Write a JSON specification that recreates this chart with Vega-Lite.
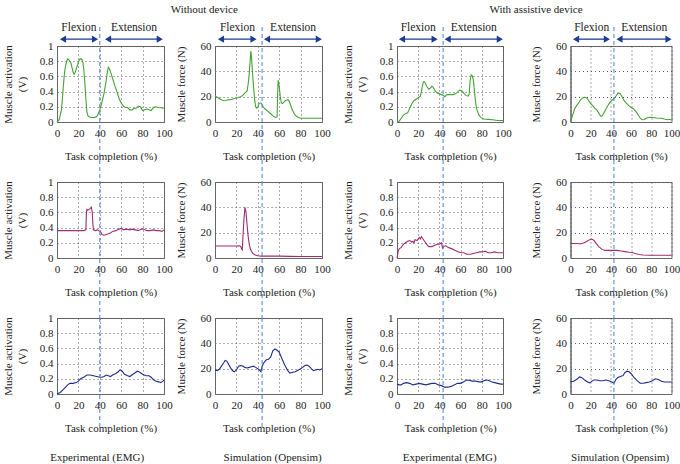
{
"$schema":"https://vega.github.io/schema/vega-lite/v6.json",
"padding":{"left":1,"top":4,"right":0,"bottom":2},
"background":"white",
"config":{
 "font":"Liberation Serif",
 "view":{"stroke":"#666","strokeWidth":1},
 "axis":{"labelFont":"Liberation Serif","titleFont":"Liberation Serif","labelFontSize":11,"titleFontSize":11,"titleFontWeight":"normal","labelColor":"#222","titleColor":"#222","domainColor":"#666","ticks":false,"grid":true,"gridDash":[1,3],"gridColor":"#555","gridOpacity":1,"labelFlush":false,"labelOverlap":false,"labelBound":false},
 "axisX":{"labelPadding":5,"titlePadding":12},
 "axisY":{"labelPadding":4},
 "line":{"strokeWidth":1.1},
 "title":{"font":"Liberation Serif","fontSize":11,"fontWeight":"normal","color":"#222","anchor":"middle"}
},
"datasets":{
 "a1":[{"x":0,"y":0},{"x":2,"y":0.03},{"x":4,"y":0.15},{"x":5,"y":0.3},{"x":6,"y":0.48},{"x":7,"y":0.65},{"x":8,"y":0.74},{"x":9,"y":0.8},{"x":10,"y":0.83},{"x":11,"y":0.82},{"x":12,"y":0.8},{"x":13,"y":0.78},{"x":14,"y":0.72},{"x":15,"y":0.66},{"x":16,"y":0.63},{"x":17,"y":0.65},{"x":18,"y":0.7},{"x":19,"y":0.74},{"x":20,"y":0.79},{"x":21,"y":0.82},{"x":22,"y":0.83},{"x":23,"y":0.83},{"x":24,"y":0.8},{"x":25,"y":0.7},{"x":26,"y":0.52},{"x":27,"y":0.3},{"x":28,"y":0.13},{"x":29,"y":0.08},{"x":30,"y":0.07},{"x":32,"y":0.06},{"x":35,"y":0.06},{"x":37,"y":0.07},{"x":38,"y":0.09},{"x":40,"y":0.16},{"x":42,"y":0.26},{"x":44,"y":0.38},{"x":46,"y":0.55},{"x":47,"y":0.65},{"x":48,"y":0.72},{"x":49,"y":0.7},{"x":50,"y":0.66},{"x":52,"y":0.57},{"x":54,"y":0.48},{"x":56,"y":0.4},{"x":58,"y":0.31},{"x":60,"y":0.25},{"x":62,"y":0.21},{"x":64,"y":0.19},{"x":66,"y":0.19},{"x":68,"y":0.16},{"x":70,"y":0.16},{"x":72,"y":0.18},{"x":74,"y":0.18},{"x":76,"y":0.21},{"x":78,"y":0.2},{"x":80,"y":0.15},{"x":82,"y":0.16},{"x":84,"y":0.17},{"x":86,"y":0.16},{"x":88,"y":0.15},{"x":90,"y":0.19},{"x":92,"y":0.2},{"x":95,"y":0.19},{"x":100,"y":0.18}],
 "a2":[{"x":0,"y":20.5},{"x":2,"y":19.5},{"x":4,"y":18.5},{"x":6,"y":17.5},{"x":8,"y":16.8},{"x":10,"y":17},{"x":12,"y":17.5},{"x":14,"y":17.6},{"x":16,"y":18},{"x":18,"y":18.6},{"x":20,"y":19},{"x":22,"y":19.3},{"x":24,"y":20},{"x":26,"y":21},{"x":28,"y":23},{"x":30,"y":24.5},{"x":31,"y":30},{"x":32,"y":38},{"x":33,"y":50},{"x":33.5,"y":56},{"x":34,"y":52},{"x":35,"y":40},{"x":36,"y":28},{"x":37,"y":18},{"x":38,"y":12},{"x":39,"y":11},{"x":40,"y":12},{"x":41,"y":14},{"x":42,"y":15},{"x":43,"y":15},{"x":44,"y":14},{"x":45,"y":12},{"x":46,"y":11},{"x":48,"y":9.5},{"x":50,"y":8},{"x":52,"y":6.5},{"x":54,"y":5},{"x":56,"y":3.8},{"x":58,"y":4},{"x":58.5,"y":20},{"x":59,"y":33},{"x":60,"y":28},{"x":61,"y":20},{"x":62,"y":15},{"x":63,"y":14.5},{"x":64,"y":15.5},{"x":66,"y":17},{"x":68,"y":17.5},{"x":69,"y":17},{"x":70,"y":15},{"x":72,"y":10},{"x":74,"y":6.5},{"x":76,"y":4.5},{"x":78,"y":3.5},{"x":80,"y":3},{"x":85,"y":3},{"x":90,"y":3},{"x":100,"y":3}],
 "a3":[{"x":0,"y":0},{"x":2,"y":0.01},{"x":4,"y":0.05},{"x":6,"y":0.09},{"x":8,"y":0.11},{"x":10,"y":0.12},{"x":12,"y":0.18},{"x":14,"y":0.24},{"x":16,"y":0.28},{"x":18,"y":0.3},{"x":20,"y":0.32},{"x":22,"y":0.34},{"x":23,"y":0.4},{"x":24,"y":0.48},{"x":25,"y":0.53},{"x":26,"y":0.53},{"x":27,"y":0.5},{"x":28,"y":0.47},{"x":30,"y":0.43},{"x":31,"y":0.44},{"x":33,"y":0.47},{"x":34,"y":0.46},{"x":36,"y":0.41},{"x":38,"y":0.38},{"x":40,"y":0.37},{"x":42,"y":0.36},{"x":44,"y":0.35},{"x":45,"y":0.33},{"x":47,"y":0.36},{"x":50,"y":0.36},{"x":53,"y":0.36},{"x":55,"y":0.37},{"x":57,"y":0.39},{"x":59,"y":0.42},{"x":61,"y":0.41},{"x":63,"y":0.38},{"x":65,"y":0.35},{"x":67,"y":0.34},{"x":68,"y":0.36},{"x":69,"y":0.55},{"x":70,"y":0.62},{"x":71,"y":0.61},{"x":72,"y":0.55},{"x":73,"y":0.42},{"x":74,"y":0.28},{"x":75,"y":0.18},{"x":77,"y":0.1},{"x":79,"y":0.06},{"x":82,"y":0.04},{"x":86,"y":0.035},{"x":90,"y":0.03},{"x":95,"y":0.02},{"x":100,"y":0.02}],
 "a4":[{"x":0,"y":0},{"x":2,"y":5},{"x":4,"y":10},{"x":6,"y":13},{"x":8,"y":15},{"x":10,"y":17.5},{"x":12,"y":19},{"x":14,"y":19.5},{"x":16,"y":19},{"x":18,"y":17},{"x":20,"y":14.5},{"x":22,"y":13},{"x":24,"y":11},{"x":26,"y":9.5},{"x":28,"y":7},{"x":30,"y":4.5},{"x":31,"y":4.5},{"x":33,"y":7},{"x":35,"y":10},{"x":37,"y":13},{"x":39,"y":15.5},{"x":41,"y":17},{"x":43,"y":18.5},{"x":45,"y":20.5},{"x":47,"y":23},{"x":49,"y":22.5},{"x":51,"y":20},{"x":53,"y":17},{"x":55,"y":15},{"x":57,"y":13.5},{"x":59,"y":12},{"x":61,"y":11},{"x":63,"y":10},{"x":65,"y":8},{"x":67,"y":5.5},{"x":69,"y":3},{"x":71,"y":1.8},{"x":73,"y":2},{"x":75,"y":3},{"x":78,"y":3.7},{"x":81,"y":3.6},{"x":85,"y":3.2},{"x":90,"y":3},{"x":93,"y":2.3},{"x":96,"y":1.8},{"x":98,"y":2.2},{"x":100,"y":1.5}],
 "b1":[{"x":0,"y":0.36},{"x":5,"y":0.36},{"x":10,"y":0.36},{"x":15,"y":0.36},{"x":20,"y":0.36},{"x":25,"y":0.36},{"x":27,"y":0.37},{"x":27.5,"y":0.6},{"x":28,"y":0.64},{"x":29,"y":0.63},{"x":30,"y":0.64},{"x":31,"y":0.65},{"x":32,"y":0.67},{"x":33,"y":0.6},{"x":33.5,"y":0.45},{"x":34,"y":0.37},{"x":36,"y":0.36},{"x":38,"y":0.37},{"x":40,"y":0.35},{"x":41,"y":0.34},{"x":42,"y":0.31},{"x":44,"y":0.3},{"x":46,"y":0.31},{"x":48,"y":0.32},{"x":50,"y":0.33},{"x":52,"y":0.35},{"x":55,"y":0.36},{"x":58,"y":0.38},{"x":60,"y":0.39},{"x":62,"y":0.37},{"x":65,"y":0.38},{"x":68,"y":0.37},{"x":70,"y":0.38},{"x":73,"y":0.37},{"x":76,"y":0.36},{"x":79,"y":0.38},{"x":81,"y":0.38},{"x":84,"y":0.36},{"x":87,"y":0.36},{"x":90,"y":0.37},{"x":93,"y":0.36},{"x":96,"y":0.36},{"x":98,"y":0.35},{"x":100,"y":0.37}],
 "b2":[{"x":0,"y":9.5},{"x":5,"y":9.5},{"x":10,"y":9.5},{"x":15,"y":9.5},{"x":20,"y":9.5},{"x":23,"y":9.6},{"x":24,"y":9},{"x":25,"y":7},{"x":25.5,"y":6.5},{"x":26,"y":15},{"x":27,"y":30},{"x":28,"y":40},{"x":29,"y":36},{"x":30,"y":26},{"x":31,"y":17},{"x":32,"y":11},{"x":33,"y":7},{"x":35,"y":4},{"x":37,"y":2.5},{"x":40,"y":1.8},{"x":43,"y":1.5},{"x":50,"y":1.5},{"x":60,"y":1.5},{"x":70,"y":1.3},{"x":80,"y":1.2},{"x":90,"y":1.2},{"x":100,"y":1.2}],
 "b3":[{"x":0,"y":0},{"x":1,"y":0.08},{"x":2,"y":0.12},{"x":4,"y":0.14},{"x":6,"y":0.18},{"x":8,"y":0.2},{"x":10,"y":0.22},{"x":12,"y":0.23},{"x":14,"y":0.21},{"x":15,"y":0.22},{"x":16,"y":0.2},{"x":17,"y":0.24},{"x":19,"y":0.23},{"x":21,"y":0.27},{"x":22,"y":0.25},{"x":23,"y":0.28},{"x":24,"y":0.26},{"x":26,"y":0.22},{"x":28,"y":0.18},{"x":30,"y":0.15},{"x":33,"y":0.15},{"x":36,"y":0.17},{"x":38,"y":0.18},{"x":40,"y":0.18},{"x":42,"y":0.2},{"x":43,"y":0.13},{"x":44,"y":0.15},{"x":46,"y":0.16},{"x":48,"y":0.14},{"x":50,"y":0.13},{"x":52,"y":0.12},{"x":55,"y":0.1},{"x":58,"y":0.08},{"x":61,"y":0.07},{"x":63,"y":0.07},{"x":66,"y":0.05},{"x":69,"y":0.05},{"x":72,"y":0.06},{"x":75,"y":0.07},{"x":78,"y":0.08},{"x":81,"y":0.08},{"x":83,"y":0.09},{"x":86,"y":0.07},{"x":89,"y":0.07},{"x":92,"y":0.08},{"x":95,"y":0.07},{"x":98,"y":0.07},{"x":100,"y":0.07}],
 "b4":[{"x":0,"y":11.5},{"x":5,"y":11.5},{"x":10,"y":11.3},{"x":13,"y":11.8},{"x":16,"y":13},{"x":19,"y":14.5},{"x":21,"y":15},{"x":23,"y":14},{"x":25,"y":12},{"x":28,"y":9},{"x":31,"y":7},{"x":34,"y":6},{"x":38,"y":6},{"x":42,"y":6},{"x":46,"y":6},{"x":50,"y":5.5},{"x":54,"y":5},{"x":58,"y":4.5},{"x":61,"y":4.3},{"x":64,"y":3.5},{"x":68,"y":2.8},{"x":72,"y":2.4},{"x":78,"y":2.2},{"x":85,"y":2.2},{"x":100,"y":2.2}],
 "c1":[{"x":0,"y":0},{"x":3,"y":0.02},{"x":6,"y":0.06},{"x":8,"y":0.09},{"x":10,"y":0.12},{"x":12,"y":0.14},{"x":15,"y":0.14},{"x":18,"y":0.15},{"x":20,"y":0.17},{"x":22,"y":0.2},{"x":25,"y":0.22},{"x":28,"y":0.25},{"x":31,"y":0.25},{"x":34,"y":0.24},{"x":37,"y":0.23},{"x":40,"y":0.22},{"x":42,"y":0.22},{"x":44,"y":0.23},{"x":46,"y":0.25},{"x":48,"y":0.24},{"x":50,"y":0.23},{"x":52,"y":0.25},{"x":55,"y":0.27},{"x":57,"y":0.29},{"x":59,"y":0.32},{"x":61,"y":0.3},{"x":63,"y":0.26},{"x":66,"y":0.24},{"x":68,"y":0.23},{"x":70,"y":0.25},{"x":73,"y":0.28},{"x":75,"y":0.3},{"x":77,"y":0.29},{"x":80,"y":0.26},{"x":83,"y":0.24},{"x":86,"y":0.24},{"x":88,"y":0.22},{"x":90,"y":0.19},{"x":92,"y":0.17},{"x":95,"y":0.16},{"x":97,"y":0.15},{"x":99,"y":0.17},{"x":100,"y":0.18}],
 "c2":[{"x":0,"y":19},{"x":2,"y":18.5},{"x":4,"y":19.5},{"x":6,"y":22},{"x":8,"y":24.5},{"x":9.5,"y":26.5},{"x":11,"y":26},{"x":13,"y":23},{"x":15,"y":20},{"x":17,"y":18},{"x":18,"y":17.5},{"x":20,"y":19},{"x":22,"y":22},{"x":24,"y":22.5},{"x":26,"y":22},{"x":28,"y":21},{"x":30,"y":20.5},{"x":32,"y":21},{"x":34,"y":21.5},{"x":36,"y":22},{"x":38,"y":21},{"x":40,"y":20},{"x":42,"y":18.5},{"x":43,"y":17.5},{"x":44,"y":22},{"x":46,"y":25},{"x":48,"y":27},{"x":50,"y":27.5},{"x":52,"y":29},{"x":54,"y":34},{"x":56,"y":35.5},{"x":58,"y":34.5},{"x":60,"y":33},{"x":62,"y":29},{"x":64,"y":25},{"x":66,"y":21.5},{"x":68,"y":18.5},{"x":70,"y":16.5},{"x":72,"y":17},{"x":75,"y":17.5},{"x":78,"y":19},{"x":80,"y":20},{"x":82,"y":21},{"x":84,"y":22.5},{"x":86,"y":22.8},{"x":88,"y":22},{"x":90,"y":20},{"x":92,"y":18.5},{"x":94,"y":19},{"x":96,"y":19.5},{"x":98,"y":19},{"x":100,"y":20}],
 "c3":[{"x":0,"y":0.13},{"x":2,"y":0.12},{"x":4,"y":0.12},{"x":6,"y":0.14},{"x":9,"y":0.15},{"x":12,"y":0.14},{"x":15,"y":0.12},{"x":18,"y":0.13},{"x":21,"y":0.14},{"x":24,"y":0.13},{"x":27,"y":0.12},{"x":30,"y":0.13},{"x":33,"y":0.14},{"x":36,"y":0.14},{"x":39,"y":0.12},{"x":42,"y":0.11},{"x":45,"y":0.09},{"x":48,"y":0.09},{"x":51,"y":0.1},{"x":54,"y":0.12},{"x":57,"y":0.14},{"x":60,"y":0.14},{"x":63,"y":0.16},{"x":65,"y":0.18},{"x":68,"y":0.18},{"x":71,"y":0.17},{"x":74,"y":0.17},{"x":77,"y":0.16},{"x":80,"y":0.16},{"x":83,"y":0.18},{"x":86,"y":0.18},{"x":89,"y":0.16},{"x":92,"y":0.15},{"x":95,"y":0.14},{"x":98,"y":0.13},{"x":100,"y":0.13}],
 "c4":[{"x":0,"y":9.8},{"x":3,"y":10},{"x":6,"y":11.5},{"x":9,"y":13.5},{"x":11,"y":13},{"x":14,"y":11},{"x":17,"y":9.5},{"x":19,"y":8.8},{"x":21,"y":10},{"x":23,"y":11},{"x":26,"y":11},{"x":29,"y":10.5},{"x":32,"y":10.5},{"x":35,"y":11},{"x":38,"y":10.5},{"x":41,"y":9.5},{"x":43,"y":8.5},{"x":45,"y":11.5},{"x":47,"y":13},{"x":50,"y":14},{"x":52,"y":14.5},{"x":54,"y":17},{"x":56,"y":18},{"x":58,"y":17.5},{"x":60,"y":16},{"x":63,"y":13},{"x":66,"y":10.5},{"x":69,"y":8.5},{"x":72,"y":8.5},{"x":75,"y":9},{"x":78,"y":9.5},{"x":81,"y":10.5},{"x":84,"y":12},{"x":87,"y":11.5},{"x":90,"y":10},{"x":93,"y":9.5},{"x":96,"y":9.5},{"x":100,"y":9.5}],
 "arr1":[{"x":5.6,"x2":35.5,"xm":20.5,"label":"Flexion"},{"x":47.7,"x2":96,"xm":72,"label":"Extension"}],
 "arr2":[{"x":5.6,"x2":36,"xm":21,"label":"Flexion"},{"x":48.6,"x2":97,"xm":73,"label":"Extension"}],
 "arr3":[{"x":4.7,"x2":35.5,"xm":20,"label":"Flexion"},{"x":47.8,"x2":97,"xm":72.5,"label":"Extension"}],
 "arr4":[{"x":5.5,"x2":36,"xm":21,"label":"Flexion"},{"x":48.5,"x2":97,"xm":73,"label":"Extension"}]
},
"spacing":10,
"hconcat":[
 {"title":{"text":"Without device","offset":6,"dx":38},"spacing":1,"hconcat":[
  {"title":{"text":"Experimental (EMG)","orient":"bottom","offset":18,"dx":10},"spacing":60,"bounds":"flush","vconcat":[
   {"width":107,"height":76,"layer":[
    {"data":{"name":"a1"},"mark":{"type":"line","color":"#45a135"},"encoding":{"x":{"field":"x","type":"quantitative","scale":{"domain":[0,100],"nice":false},"axis":{"title":"Task completion (%)","values":[0,20,40,60,80,100],"tickCount":6,"labelOverlap":false}},"y":{"field":"y","type":"quantitative","scale":{"domain":[0,1],"nice":false},"axis":{"title":["Muscle activation","(V)"],"titleLineHeight":14,"titlePadding":12,"values":[0,0.2,0.4,0.6,0.8,1],"tickCount":6,"labelOverlap":false,"format":"~g"}}}},
    {"data":{"name":"arr1"},"mark":{"type":"rule","color":"#1d3c8f","strokeWidth":1.3},"encoding":{"x":{"field":"x","type":"quantitative"},"x2":{"field":"x2"},"y":{"datum":1.09}}},
    {"data":{"name":"arr1"},"mark":{"type":"point","shape":"triangle-left","filled":true,"size":50,"color":"#1d3c8f","opacity":1},"encoding":{"x":{"field":"x","type":"quantitative"},"y":{"datum":1.09}}},
    {"data":{"name":"arr1"},"mark":{"type":"point","shape":"triangle-right","filled":true,"size":50,"color":"#1d3c8f","opacity":1},"encoding":{"x":{"field":"x2","type":"quantitative"},"y":{"datum":1.09}}},
    {"data":{"name":"arr1"},"mark":{"type":"text","fontSize":11.5,"color":"#222","font":"Liberation Serif"},"encoding":{"x":{"field":"xm","type":"quantitative"},"y":{"datum":1.24},"text":{"field":"label"}}},
    {"data":{"values":[{}]},"mark":{"type":"rule","color":"#4b7fd6","strokeDash":[4,3],"strokeWidth":1},"encoding":{"x":{"datum":40},"y":{"datum":1.25},"y2":{"datum":-0.79}}}
   ]},
   {"width":107,"height":76,"layer":[
    {"data":{"name":"b1"},"mark":{"type":"line","color":"#a02d70"},"encoding":{"x":{"field":"x","type":"quantitative","scale":{"domain":[0,100],"nice":false},"axis":{"title":"Task completion (%)","values":[0,20,40,60,80,100],"tickCount":6,"labelOverlap":false}},"y":{"field":"y","type":"quantitative","scale":{"domain":[0,1],"nice":false},"axis":{"title":["Muscle activation","(V)"],"titleLineHeight":14,"titlePadding":12,"values":[0,0.2,0.4,0.6,0.8,1],"tickCount":6,"labelOverlap":false,"format":"~g"}}}},
    {"data":{"values":[{}]},"mark":{"type":"rule","color":"#4b7fd6","strokeDash":[4,3],"strokeWidth":1},"encoding":{"x":{"datum":40},"y":{"datum":1},"y2":{"datum":-0.8}}}
   ]},
   {"width":107,"height":76,"layer":[
    {"data":{"name":"c1"},"mark":{"type":"line","color":"#1f2d8c"},"encoding":{"x":{"field":"x","type":"quantitative","scale":{"domain":[0,100],"nice":false},"axis":{"title":"Task completion (%)","values":[0,20,40,60,80,100],"tickCount":6,"labelOverlap":false}},"y":{"field":"y","type":"quantitative","scale":{"domain":[0,1],"nice":false},"axis":{"title":["Muscle activation","(V)"],"titleLineHeight":14,"titlePadding":12,"values":[0,0.2,0.4,0.6,0.8,1],"tickCount":6,"labelOverlap":false,"format":"~g"}}}},
    {"data":{"values":[{}]},"mark":{"type":"rule","color":"#4b7fd6","strokeDash":[4,3],"strokeWidth":1},"encoding":{"x":{"datum":40},"y":{"datum":1},"y2":{"datum":-0.47}}}
   ]}
  ]},
  {"title":{"text":"Simulation (Opensim)","orient":"bottom","offset":18,"dx":20},"spacing":60,"bounds":"flush","vconcat":[
   {"width":107,"height":76,"layer":[
    {"data":{"name":"a2"},"mark":{"type":"line","color":"#45a135"},"encoding":{"x":{"field":"x","type":"quantitative","scale":{"domain":[0,100],"nice":false},"axis":{"title":"Task completion (%)","values":[0,20,40,60,80,100],"tickCount":6,"labelOverlap":false}},"y":{"field":"y","type":"quantitative","scale":{"domain":[0,60],"nice":false},"axis":{"title":"Muscle force (N)","titlePadding":14,"values":[0,20,40,60],"tickCount":4,"labelOverlap":false}}}},
    {"data":{"name":"arr2"},"mark":{"type":"rule","color":"#1d3c8f","strokeWidth":1.3},"encoding":{"x":{"field":"x","type":"quantitative"},"x2":{"field":"x2"},"y":{"datum":65.4}}},
    {"data":{"name":"arr2"},"mark":{"type":"point","shape":"triangle-left","filled":true,"size":50,"color":"#1d3c8f","opacity":1},"encoding":{"x":{"field":"x","type":"quantitative"},"y":{"datum":65.4}}},
    {"data":{"name":"arr2"},"mark":{"type":"point","shape":"triangle-right","filled":true,"size":50,"color":"#1d3c8f","opacity":1},"encoding":{"x":{"field":"x2","type":"quantitative"},"y":{"datum":65.4}}},
    {"data":{"name":"arr2"},"mark":{"type":"text","fontSize":11.5,"color":"#222","font":"Liberation Serif"},"encoding":{"x":{"field":"xm","type":"quantitative"},"y":{"datum":74.4},"text":{"field":"label"}}},
    {"data":{"values":[{}]},"mark":{"type":"rule","color":"#4b7fd6","strokeDash":[4,3],"strokeWidth":1},"encoding":{"x":{"datum":44},"y":{"datum":75},"y2":{"datum":-47.4}}}
   ]},
   {"width":107,"height":76,"layer":[
    {"data":{"name":"b2"},"mark":{"type":"line","color":"#a02d70"},"encoding":{"x":{"field":"x","type":"quantitative","scale":{"domain":[0,100],"nice":false},"axis":{"title":"Task completion (%)","values":[0,20,40,60,80,100],"tickCount":6,"labelOverlap":false}},"y":{"field":"y","type":"quantitative","scale":{"domain":[0,60],"nice":false},"axis":{"title":"Muscle force (N)","titlePadding":14,"values":[0,20,40,60],"tickCount":4,"labelOverlap":false}}}},
    {"data":{"values":[{}]},"mark":{"type":"rule","color":"#4b7fd6","strokeDash":[4,3],"strokeWidth":1},"encoding":{"x":{"datum":44},"y":{"datum":60},"y2":{"datum":-48}}}
   ]},
   {"width":107,"height":76,"layer":[
    {"data":{"name":"c2"},"mark":{"type":"line","color":"#1f2d8c"},"encoding":{"x":{"field":"x","type":"quantitative","scale":{"domain":[0,100],"nice":false},"axis":{"title":"Task completion (%)","values":[0,20,40,60,80,100],"tickCount":6,"labelOverlap":false}},"y":{"field":"y","type":"quantitative","scale":{"domain":[0,60],"nice":false},"axis":{"title":"Muscle force (N)","titlePadding":14,"values":[0,20,40,60],"tickCount":4,"labelOverlap":false}}}},
    {"data":{"values":[{}]},"mark":{"type":"rule","color":"#4b7fd6","strokeDash":[4,3],"strokeWidth":1},"encoding":{"x":{"datum":44},"y":{"datum":60},"y2":{"datum":-28}}}
   ]}
  ]}
 ]},
 {"title":{"text":"With assistive device","offset":6,"dx":25},"spacing":17.5,"hconcat":[
  {"title":{"text":"Experimental (EMG)","orient":"bottom","offset":18,"dx":23},"spacing":60,"bounds":"flush","vconcat":[
   {"width":106,"height":76,"layer":[
    {"data":{"name":"a3"},"mark":{"type":"line","color":"#45a135"},"encoding":{"x":{"field":"x","type":"quantitative","scale":{"domain":[0,100],"nice":false},"axis":{"title":"Task completion (%)","values":[0,20,40,60,80,100],"tickCount":6,"labelOverlap":false}},"y":{"field":"y","type":"quantitative","scale":{"domain":[0,1],"nice":false},"axis":{"title":["Muscle activation","(V)"],"titleLineHeight":14,"titlePadding":12,"values":[0,0.2,0.4,0.6,0.8,1],"tickCount":6,"labelOverlap":false,"format":"~g"}}}},
    {"data":{"name":"arr3"},"mark":{"type":"rule","color":"#1d3c8f","strokeWidth":1.3},"encoding":{"x":{"field":"x","type":"quantitative"},"x2":{"field":"x2"},"y":{"datum":1.09}}},
    {"data":{"name":"arr3"},"mark":{"type":"point","shape":"triangle-left","filled":true,"size":50,"color":"#1d3c8f","opacity":1},"encoding":{"x":{"field":"x","type":"quantitative"},"y":{"datum":1.09}}},
    {"data":{"name":"arr3"},"mark":{"type":"point","shape":"triangle-right","filled":true,"size":50,"color":"#1d3c8f","opacity":1},"encoding":{"x":{"field":"x2","type":"quantitative"},"y":{"datum":1.09}}},
    {"data":{"name":"arr3"},"mark":{"type":"text","fontSize":11.5,"color":"#222","font":"Liberation Serif"},"encoding":{"x":{"field":"xm","type":"quantitative"},"y":{"datum":1.24},"text":{"field":"label"}}},
    {"data":{"values":[{}]},"mark":{"type":"rule","color":"#4b7fd6","strokeDash":[4,3],"strokeWidth":1},"encoding":{"x":{"datum":43.5},"y":{"datum":1.25},"y2":{"datum":-0.79}}}
   ]},
   {"width":106,"height":76,"layer":[
    {"data":{"name":"b3"},"mark":{"type":"line","color":"#a02d70"},"encoding":{"x":{"field":"x","type":"quantitative","scale":{"domain":[0,100],"nice":false},"axis":{"title":"Task completion (%)","values":[0,20,40,60,80,100],"tickCount":6,"labelOverlap":false}},"y":{"field":"y","type":"quantitative","scale":{"domain":[0,1],"nice":false},"axis":{"title":["Muscle activation","(V)"],"titleLineHeight":14,"titlePadding":12,"values":[0,0.2,0.4,0.6,0.8,1],"tickCount":6,"labelOverlap":false,"format":"~g"}}}},
    {"data":{"values":[{}]},"mark":{"type":"rule","color":"#4b7fd6","strokeDash":[4,3],"strokeWidth":1},"encoding":{"x":{"datum":43.5},"y":{"datum":1},"y2":{"datum":-0.8}}}
   ]},
   {"width":106,"height":76,"layer":[
    {"data":{"name":"c3"},"mark":{"type":"line","color":"#1f2d8c"},"encoding":{"x":{"field":"x","type":"quantitative","scale":{"domain":[0,100],"nice":false},"axis":{"title":"Task completion (%)","values":[0,20,40,60,80,100],"tickCount":6,"labelOverlap":false}},"y":{"field":"y","type":"quantitative","scale":{"domain":[0,1],"nice":false},"axis":{"title":["Muscle activation","(V)"],"titleLineHeight":14,"titlePadding":12,"values":[0,0.2,0.4,0.6,0.8,1],"tickCount":6,"labelOverlap":false,"format":"~g"}}}},
    {"data":{"values":[{}]},"mark":{"type":"rule","color":"#4b7fd6","strokeDash":[4,3],"strokeWidth":1},"encoding":{"x":{"datum":43.5},"y":{"datum":1},"y2":{"datum":-0.47}}}
   ]}
  ]},
  {"title":{"text":"Simulation (Opensim)","orient":"bottom","offset":18,"dx":15},"spacing":60,"bounds":"flush","vconcat":[
   {"width":101,"height":76,"layer":[
    {"data":{"name":"a4"},"mark":{"type":"line","color":"#45a135"},"encoding":{"x":{"field":"x","type":"quantitative","scale":{"domain":[0,100],"nice":false},"axis":{"title":"Task completion (%)","values":[0,20,40,60,80,100],"tickCount":6,"labelOverlap":false}},"y":{"field":"y","type":"quantitative","scale":{"domain":[0,60],"nice":false},"axis":{"title":"Muscle force (N)","titlePadding":14,"values":[0,20,40,60],"tickCount":4,"labelOverlap":false}}}},
    {"data":{"name":"arr4"},"mark":{"type":"rule","color":"#1d3c8f","strokeWidth":1.3},"encoding":{"x":{"field":"x","type":"quantitative"},"x2":{"field":"x2"},"y":{"datum":65.4}}},
    {"data":{"name":"arr4"},"mark":{"type":"point","shape":"triangle-left","filled":true,"size":50,"color":"#1d3c8f","opacity":1},"encoding":{"x":{"field":"x","type":"quantitative"},"y":{"datum":65.4}}},
    {"data":{"name":"arr4"},"mark":{"type":"point","shape":"triangle-right","filled":true,"size":50,"color":"#1d3c8f","opacity":1},"encoding":{"x":{"field":"x2","type":"quantitative"},"y":{"datum":65.4}}},
    {"data":{"name":"arr4"},"mark":{"type":"text","fontSize":11.5,"color":"#222","font":"Liberation Serif"},"encoding":{"x":{"field":"xm","type":"quantitative"},"y":{"datum":74.4},"text":{"field":"label"}}},
    {"data":{"values":[{}]},"mark":{"type":"rule","color":"#4b7fd6","strokeDash":[4,3],"strokeWidth":1},"encoding":{"x":{"datum":43},"y":{"datum":75},"y2":{"datum":-47.4}}}
   ]},
   {"width":101,"height":76,"layer":[
    {"data":{"name":"b4"},"mark":{"type":"line","color":"#a02d70"},"encoding":{"x":{"field":"x","type":"quantitative","scale":{"domain":[0,100],"nice":false},"axis":{"title":"Task completion (%)","values":[0,20,40,60,80,100],"tickCount":6,"labelOverlap":false}},"y":{"field":"y","type":"quantitative","scale":{"domain":[0,60],"nice":false},"axis":{"title":"Muscle force (N)","titlePadding":14,"values":[0,20,40,60],"tickCount":4,"labelOverlap":false}}}},
    {"data":{"values":[{}]},"mark":{"type":"rule","color":"#4b7fd6","strokeDash":[4,3],"strokeWidth":1},"encoding":{"x":{"datum":43},"y":{"datum":60},"y2":{"datum":-48}}}
   ]},
   {"width":101,"height":76,"layer":[
    {"data":{"name":"c4"},"mark":{"type":"line","color":"#1f2d8c"},"encoding":{"x":{"field":"x","type":"quantitative","scale":{"domain":[0,100],"nice":false},"axis":{"title":"Task completion (%)","values":[0,20,40,60,80,100],"tickCount":6,"labelOverlap":false}},"y":{"field":"y","type":"quantitative","scale":{"domain":[0,60],"nice":false},"axis":{"title":"Muscle force (N)","titlePadding":14,"values":[0,20,40,60],"tickCount":4,"labelOverlap":false}}}},
    {"data":{"values":[{}]},"mark":{"type":"rule","color":"#4b7fd6","strokeDash":[4,3],"strokeWidth":1},"encoding":{"x":{"datum":43},"y":{"datum":60},"y2":{"datum":-28}}}
   ]}
  ]}
 ]}
]
}
